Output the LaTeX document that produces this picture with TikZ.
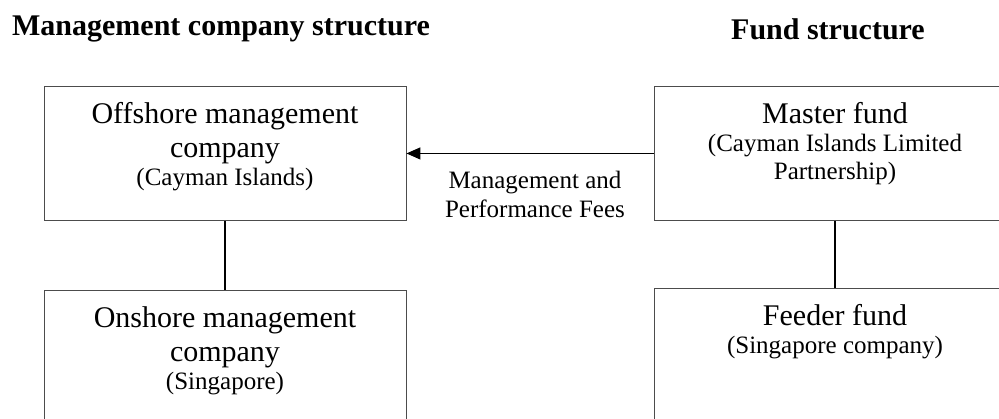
\documentclass[tikz,border=0pt]{standalone}
\usepackage{fontspec}
\setmainfont{Liberation Serif}
\usetikzlibrary{arrows.meta}

\newcommand{\domicile}[1]{\par\fontsize{25}{28}\selectfont #1\par}

\begin{document}
\begin{tikzpicture}[x=1pt, y=-1pt,
 box/.style={draw=black!70, line width=0.9pt, anchor=north, inner sep=0pt,
  minimum width=362pt, text width=340pt, align=flush center,
  text height=37pt, text depth=97pt, font=\fontsize{30}{34}\selectfont},
 title/.style={anchor=base, font=\fontsize{30}{36}\selectfont\bfseries},
 fees/.style={anchor=base, text width=220pt, align=flush center, inner sep=0pt,
  font=\fontsize{25}{29}\selectfont},
 link/.style={line width=1.3pt}]
 \useasboundingbox (0,0) rectangle (999,418);

 \node[title] (MgmtTitle) at (221,35) {Management company structure};
 \node[title] (FundTitle) at (828,39) {Fund structure};

 \node[box] (Off) at (225,86) {Offshore management\\company\domicile{(Cayman Islands)}};
 \node[box] (On) at (225,290) {Onshore management\\company\domicile{(Singapore)}};
 \node[box] (Master) at (835,86) {Master fund\domicile{(Cayman Islands Limited\\Partnership)}};
 \node[box] (Feeder) at (835,288) {Feeder fund\domicile{(Singapore company)}};

 \draw[link, -{Triangle[length=14pt, width=12pt]}] (Master.west) -- (Master.west -| Off.east)
  node[fees, pos=0.48, yshift=-35pt] {Management and\\Performance Fees};
 \draw[link] (Off) -- (On);
 \draw[link] (Master) -- (Feeder);
\end{tikzpicture}
\end{document}
